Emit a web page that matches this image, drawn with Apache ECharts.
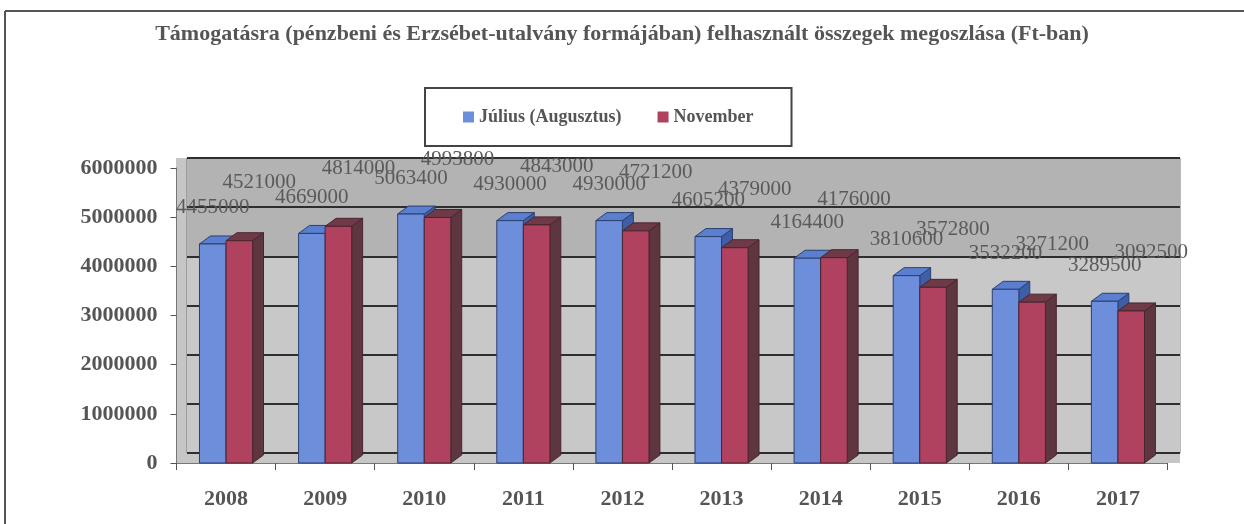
<!DOCTYPE html>
<html><head><meta charset="utf-8">
<script src="https://cdn.jsdelivr.net/npm/echarts@6/dist/echarts.min.js"></script>
<style>html,body{margin:0;padding:0;background:#fff}#c{width:1244px;height:524px}</style>
</head><body><div id="c"></div>
<script>
const titleText = 'Támogatásra (pénzbeni és Erzsébet-utalvány formájában) felhasznált összegek megoszlása (Ft-ban)';
const years = ['2008','2009','2010','2011','2012','2013','2014','2015','2016','2017'];
const seriesNames = ['Július (Augusztus)', 'November'];
const julius = [4455000, 4669000, 5063400, 4930000, 4930000, 4605200, 4164400, 3810600, 3532200, 3289500];
const november = [4521000, 4814000, 4993800, 4843000, 4721200, 4379000, 4176000, 3572800, 3271200, 3092500];
const yMin = 0, yMax = 6000000, yStep = 1000000;

const blueFaces = {front:'#6c8edb', top:'#5b7fcf', side:'#3f5ea8', stroke:'#2c3f6e'};
const redFaces = {front:'#b0415f', top:'#6e3a48', side:'#5e363f', stroke:'#4a2530'};
const serifFont = '"Liberation Serif", "DejaVu Serif", serif';

function makeRender(sideIdx, faces, labelDx, labelDy) {
  return function (params, api) {
    const ci = api.value(0), v = api.value(1);
    const band = api.size([1, 0])[0];
    const c0 = api.coord([ci, 0]);
    const c1 = api.coord([ci, v]);
    const w = band * 0.268;
    const x0 = sideIdx === 0 ? c0[0] - w : c0[0];
    const x1 = x0 + w;
    const by = c0[1], ty = c1[1];
    const dx = band * 0.11, dy = -8;
    return {
      type: 'group',
      children: [
        {type:'polygon', shape:{points:[[x1,ty],[x1+dx,ty+dy],[x1+dx,by+dy],[x1,by]]}, style:{fill:faces.side, stroke:faces.stroke, lineWidth:1}},
        {type:'polygon', shape:{points:[[x0,ty],[x0+dx,ty+dy],[x1+dx,ty+dy],[x1,ty]]}, style:{fill:faces.top, stroke:faces.stroke, lineWidth:1}},
        {type:'rect', shape:{x:x0, y:ty, width:w, height:by-ty}, style:{fill:faces.front, stroke:faces.stroke, lineWidth:1}},
        {type:'text', z2: 20, style:{text:String(v), x:(x0+x1)/2 + labelDx, y:ty + labelDy, align:'center', verticalAlign:'middle', font:'21px ' + serifFont, fill:'#5a5a5a'}}
      ]
    };
  };
}

const chart = echarts.init(document.getElementById('c'), null, {renderer:'canvas'});
const option = {
  backgroundColor: '#ffffff',
  animation: false,
  title: {
    text: titleText, left: 'center', top: 18,
    textStyle: {fontFamily: serifFont, fontWeight: 'bold', fontSize: 22, color: '#555555'}
  },
  legend: {
    data: seriesNames, left: 425, top: 88,
    padding: [20, 38], itemGap: 36, itemWidth: 11, itemHeight: 11, icon: 'rect',
    borderColor: '#444444', borderWidth: 2,
    textStyle: {fontFamily: serifFont, fontWeight: 'bold', fontSize: 18, color: '#555555'}
  },
  graphic: [
    {type:'line', shape:{x1:5, y1:11, x2:1244, y2:11}, style:{stroke:'#555', lineWidth:2}},
    {type:'line', shape:{x1:5, y1:11, x2:5, y2:524}, style:{stroke:'#555', lineWidth:2}}
  ],
  grid: [
    {left: 176, top: 158, right: 64, bottom: 61, show: true, backgroundColor: '#c6c6c6', borderWidth: 0},
    {left: 187, top: 158, right: 64, bottom: 71, show: true, backgroundColor: 'transparent', borderColor: '#777', borderWidth: 1},
    {left: 176.5, top: 168, right: 76.5, bottom: 61, show: false}
  ],
  xAxis: [
    {gridIndex: 0, type: 'category', data: years, show: false},
    {gridIndex: 1, type: 'category', data: years, show: false},
    {gridIndex: 2, type: 'category', data: years,
     axisLine: {show: true, lineStyle: {color: '#777', width: 1}},
     axisTick: {show: true, length: 7, lineStyle: {color: '#555'}},
     axisLabel: {margin: 25, fontFamily: serifFont, fontWeight: 'bold', fontSize: 22, color: '#555555'},
     splitLine: {show: false}}
  ],
  yAxis: [
    {gridIndex: 0, type: 'value', min: yMin, max: yMax, interval: yStep, show: false},
    {gridIndex: 1, type: 'value', min: yMin, max: yMax, interval: yStep,
     axisLine: {show: false}, axisTick: {show: false}, axisLabel: {show: false},
     splitLine: {show: true, lineStyle: {color: '#2e2e2e', width: 2}},
     splitArea: {show: true, areaStyle: {color: ['#c8c8c8','#c8c8c8','#c8c8c8','#c8c8c8','#b3b3b3','#b3b3b3']}}},
    {gridIndex: 2, type: 'value', min: yMin, max: yMax, interval: yStep,
     axisLine: {show: true, lineStyle: {color: '#777', width: 1}},
     axisTick: {show: true, length: 6, lineStyle: {color: '#555'}},
     axisLabel: {margin: 19, fontFamily: serifFont, fontWeight: 'bold', fontSize: 22, color: '#555555', formatter: v => String(v)},
     splitLine: {show: false}}
  ],
  series: [
    {name: seriesNames[0], type: 'custom', xAxisIndex: 2, yAxisIndex: 2,
     itemStyle: {color: blueFaces.front},
     renderItem: makeRender(0, blueFaces, 0, -36),
     encode: {x: 0, y: 1},
     data: julius.map((v, i) => [i, v]), z: 3},
    {name: seriesNames[1], type: 'custom', xAxisIndex: 2, yAxisIndex: 2,
     itemStyle: {color: redFaces.front},
     renderItem: makeRender(1, redFaces, 20, -58),
     encode: {x: 0, y: 1},
     data: november.map((v, i) => [i, v]), z: 4}
  ]
};
chart.setOption(option);
</script>
</body></html>
